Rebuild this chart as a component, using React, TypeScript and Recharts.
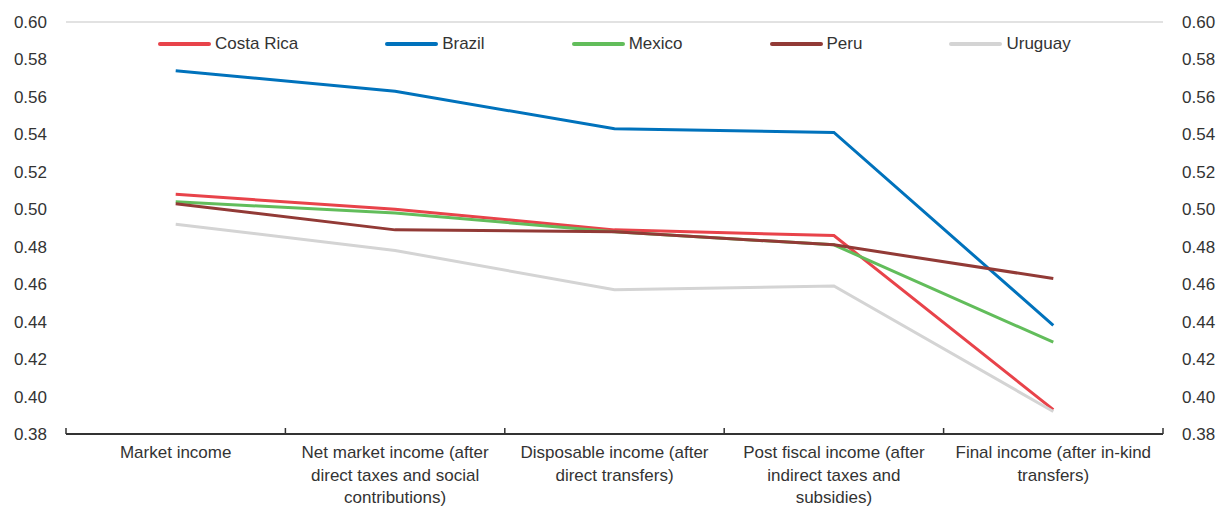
import { LineChart, Line, XAxis, YAxis, CartesianGrid, Text } from 'recharts';

const categories = [
  'Market income',
  'Net market income (after direct taxes and social contributions)',
  'Disposable income (after direct transfers)',
  'Post fiscal income (after indirect taxes and subsidies)',
  'Final income (after in-kind transfers)',
];

const countries = ['Costa Rica', 'Brazil', 'Mexico', 'Peru', 'Uruguay'];

const costaRica = [0.508, 0.5, 0.489, 0.486, 0.393];
const brazil = [0.574, 0.563, 0.543, 0.541, 0.438];
const mexico = [0.504, 0.498, 0.488, 0.481, 0.429];
const peru = [0.503, 0.489, 0.488, 0.481, 0.463];
const uruguay = [0.492, 0.478, 0.457, 0.459, 0.392];

const yTicks = [0.38, 0.4, 0.42, 0.44, 0.46, 0.48, 0.5, 0.52, 0.54, 0.56, 0.58, 0.6];

const values = [costaRica, brazil, mexico, peru, uruguay];

const colors: Record<string, string> = {
  'Costa Rica': '#E8434A',
  Brazil: '#0072BC',
  Mexico: '#62BD5B',
  Peru: '#923A36',
  Uruguay: '#D4D4D4',
};

const data = categories.map((category, i) => {
  const row: Record<string, string | number> = { category };
  countries.forEach((c, k) => {
    row[c] = values[k][i];
  });
  return row;
});

const W = 1218;
const H = 508;
const LEFT = 66;
const RIGHT = 1163;
const BAND = (RIGHT - LEFT) / categories.length;
const FONT = '"Liberation Sans", Arial, sans-serif';
const TEXT = '#333333';

function CategoryTick(props: any) {
  const { x, y, payload, index } = props;
  return (
    <g>
      <line x1={x - BAND / 2} x2={x - BAND / 2} y1={y - 6} y2={y} stroke="#333" strokeWidth={1.5} />
      {index === categories.length - 1 && (
        <line x1={x + BAND / 2} x2={x + BAND / 2} y1={y - 6} y2={y} stroke="#333" strokeWidth={1.5} />
      )}
      <Text
        x={x}
        y={y + 12}
        width={200}
        textAnchor="middle"
        verticalAnchor="start"
        lineHeight={22.5}
        style={{ fontSize: 17, fontFamily: FONT }}
        fill={TEXT}
      >
        {payload.value}
      </Text>
    </g>
  );
}

function ChartLegend() {
  return (
    <div
      style={{
        position: 'absolute',
        top: 34,
        left: 158,
        display: 'flex',
        gap: 87,
        fontFamily: FONT,
        fontSize: 17,
        color: TEXT,
        lineHeight: '20px',
      }}
    >
      {countries.map((c) => (
        <div key={c} style={{ display: 'flex', alignItems: 'center' }}>
          <div style={{ width: 53, height: 4, borderRadius: 2, background: colors[c], marginRight: 4 }} />
          <span>{c}</span>
        </div>
      ))}
    </div>
  );
}

export default function App() {
  return (
    <div style={{ position: 'absolute', left: 0, top: 0, width: W, height: H, background: '#fff' }}>
      <LineChart width={W} height={H} data={data} margin={{ top: 22, right: 0, bottom: 0, left: 0 }}>
        <CartesianGrid horizontal vertical={false} stroke="#d9d9d9" strokeWidth={1.5} />
        <XAxis
          dataKey="category"
          scale="band"
          height={74}
          axisLine={{ stroke: '#333', strokeWidth: 2 }}
          tickLine={false}
          tickSize={0}
          tickMargin={0}
          interval={0}
          tick={<CategoryTick />}
        />
        <YAxis
          yAxisId="left"
          orientation="left"
          width={LEFT}
          domain={[0.38, 0.6]}
          ticks={yTicks}
          allowDataOverflow
          axisLine={false}
          tickLine={false}
          tickSize={0}
          tickMargin={19}
          tickFormatter={(v: number) => v.toFixed(2)}
          tick={{ fill: TEXT, fontSize: 17, fontFamily: FONT }}
        />
        <YAxis
          yAxisId="right"
          orientation="right"
          width={W - RIGHT}
          domain={[0.38, 0.6]}
          ticks={yTicks}
          allowDataOverflow
          axisLine={false}
          tickLine={false}
          tickSize={0}
          tickMargin={19}
          tickFormatter={(v: number) => v.toFixed(2)}
          tick={{ fill: TEXT, fontSize: 17, fontFamily: FONT, textAnchor: 'start' }}
        />
        {countries.map((c) => (
          <Line
            key={c}
            yAxisId="left"
            type="linear"
            dataKey={c}
            stroke={colors[c]}
            strokeWidth={3}
            dot={false}
            activeDot={false}
            isAnimationActive={false}
          />
        ))}
      </LineChart>
      <ChartLegend />
    </div>
  );
}
